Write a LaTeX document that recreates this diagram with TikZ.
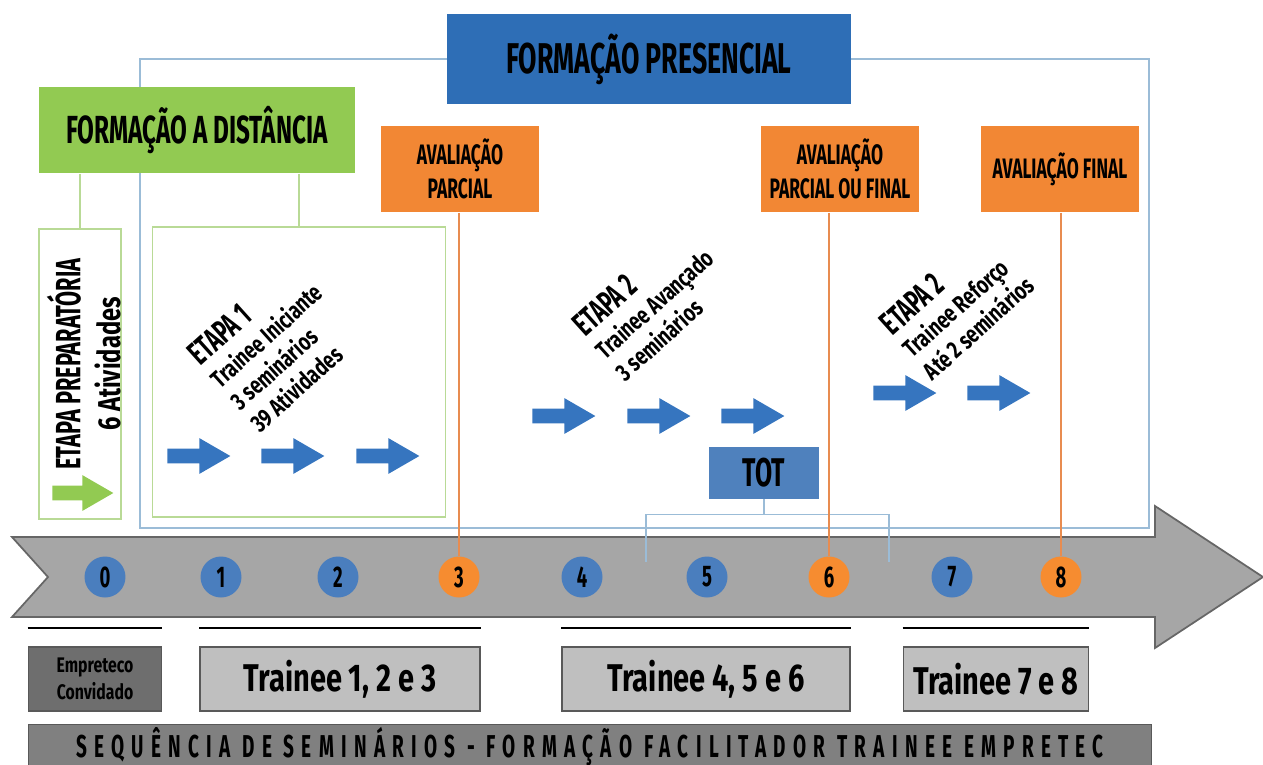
\documentclass[tikz,border=0pt]{standalone}
\usepackage{fontspec}
\setmainfont[FakeStretch=0.62]{Fira Sans}
\newfontfamily\widefont[FakeStretch=0.75]{Fira Sans}
\newfontfamily\spacedfont[FakeStretch=0.6,LetterSpace=23]{Fira Sans}
\usetikzlibrary{shapes.arrows}

\definecolor{presblue}{RGB}{46,110,182}
\definecolor{distgreen}{RGB}{146,202,82}
\definecolor{evalorange}{RGB}{242,135,52}
\definecolor{totblue}{RGB}{79,129,189}
\definecolor{dotblue}{RGB}{74,126,190}
\definecolor{dotorange}{RGB}{246,140,48}
\definecolor{arrowblue}{RGB}{54,117,191}
\definecolor{framecol}{RGB}{155,188,215}
\definecolor{greenline}{RGB}{185,218,150}
\definecolor{orangeline}{RGB}{232,140,80}

\begin{document}
\begin{tikzpicture}[x=0.02cm,y=-0.02cm,
    every node/.style={inner sep=0pt},
    evalbox/.style={fill=evalorange, minimum width=31.6mm, minimum height=17.4mm,
      align=center, font=\bfseries\fontsize{16}{19}\selectfont},
    greenbox/.style={draw=greenline, line width=0.8pt},
    blockarrow/.style={single arrow, fill=#1, minimum height=12.6mm, minimum width=7mm, anchor=west,
      inner xsep=0pt, inner ysep=1.4mm, single arrow head extend=2.1mm, single arrow tip angle=60},
    dot/.style={circle, minimum size=8.2mm, font=\bfseries\fontsize{17}{17}\selectfont},
    traineebox/.style={draw=black!65, line width=1pt, fill=black!25, minimum height=12.8mm,
      font=\widefont\bfseries\fontsize{22}{24}\selectfont},
    steptext/.style={rotate=42, align=left, font=\widefont\bfseries\fontsize{14}{17}\selectfont}]
  \useasboundingbox (0,0) rectangle (1263,764);

  %top boxes
  \node[fill=presblue, minimum width=80.8mm, minimum height=18mm,
    font=\bfseries\fontsize{24.5}{26}\selectfont] (pres) at (649,59) {FORMAÇÃO PRESENCIAL};
  \draw[framecol, line width=0.8pt] (pres.west) -| (140,528) -| (1149,59) -- (pres.east);
  \node[fill=distgreen, minimum width=63.2mm, minimum height=17.4mm,
    font=\bfseries\fontsize{22.3}{24}\selectfont] (dist) at (197,130) {FORMAÇÃO A DISTÂNCIA};
  \node[evalbox] (av1) at (460,169) {AVALIAÇÃO\\PARCIAL};
  \node[evalbox] (av2) at (840,169) {AVALIAÇÃO\\PARCIAL OU FINAL};
  \node[evalbox] (av3) at (1060,169) {AVALIAÇÃO FINAL};

  %stage boxes
  \node[greenbox, minimum width=16.4mm, minimum height=58mm] (prep) at (80,374) {};
  \node[greenbox, minimum width=58.6mm, minimum height=58mm] (et1box) at (299,372) {};
  \draw[greenline, line width=0.8pt] (dist.south -| prep.north) -- (prep.north);
  \draw[greenline, line width=0.8pt] (dist.south -| et1box.north) -- (et1box.north);

  \node[rotate=90, align=center, font=\bfseries\fontsize{20}{23}\selectfont] (preptext) at (84,364)
    {ETAPA PREPARATÓRIA\\{\widefont\fontsize{18}{20}\selectfont 6 Atividades}};
  \node[steptext] (et1) at (275,345)
    {{\normalfont\bfseries\fontsize{19}{21}\selectfont ETAPA 1}\\Trainee Iniciante\\3 seminários\\39 Atividades};
  \node[steptext] (et2) at (653,302)
    {{\normalfont\bfseries\fontsize{19}{21}\selectfont ETAPA 2}\\Trainee Avançado\\3 seminários};
  \node[steptext] (et3) at (957,304)
    {{\normalfont\bfseries\fontsize{19}{21}\selectfont ETAPA 2}\\Trainee Reforço\\Até 2 seminários};

  %arrows
  \node[blockarrow=distgreen, minimum height=12.2mm, minimum width=6.4mm] (g0) at (52,493) {};
  \foreach \x [count=\i] in {167,261,356} \node[blockarrow=arrowblue] (a\i) at (\x,456) {};
  \foreach \x [count=\i] in {532,627,721} \node[blockarrow=arrowblue] (b\i) at (\x,416) {};
  \foreach \x [count=\i] in {873,967} \node[blockarrow=arrowblue] (r\i) at (\x,393) {};

  \node[fill=totblue, minimum width=22mm, minimum height=10.4mm,
    font=\bfseries\fontsize{22.8}{24}\selectfont] (tot) at (764,473) {TOT};

  %time line
  \draw[draw=black!60, line width=1pt, fill=black!35]
    (12,537) -- (1155,537) -- (1155,506) -- (1263,577) -- (1155,648) -- (1155,617)
    -- (12,617) -- (48,577) -- cycle;

  \draw[framecol, line width=0.8pt] (tot.south) -- ++(0,15) coordinate (totj);
  \draw[framecol, line width=0.8pt] (646,562) |- (totj) -| (889,562);

  \foreach \n/\x/\c in {0/105/dotblue,1/221/dotblue,2/338/dotblue,3/459/dotorange,
      4/582/dotblue,5/707/dotblue,6/829/dotorange,7/952/dotblue,8/1061/dotorange}
    \node[dot, fill=\c] (c\n) at (\x,577) {\n};
  \foreach \a/\n in {av1/3,av2/6,av3/8}
    \draw[orangeline, line width=0.8pt] (\a.south -| c\n) -- (c\n.north);

  %trainee groups
  \node[traineebox, fill=black!57, minimum width=26.6mm, align=center,
    font=\widefont\bfseries\fontsize{12}{15}\selectfont] (emp) at (95,679) {Empreteco\\Convidado};
  \node[traineebox, minimum width=56mm] (tr1) at (340,679) {Trainee 1, 2 e 3};
  \node[traineebox, minimum width=57.6mm] (tr2) at (706,679) {Trainee 4, 5 e 6};
  \node[traineebox, minimum width=37mm] (tr3) at (996,679) {Trainee 7 e 8};
  \foreach \b in {emp,tr1,tr2,tr3}
    \draw[line width=1.2pt] ([yshift=3.6mm]\b.north west) -- ([yshift=3.6mm]\b.north east);

  \node[draw=black!65, line width=1pt, fill=black!50, minimum width=224.6mm, minimum height=9mm,
    font=\spacedfont\bfseries\fontsize{18}{20}\selectfont] (seq) at (590,747)
    {SEQUÊNCIA DE SEMINÁRIOS - FORMAÇÃO FACILITADOR TRAINEE EMPRETEC};
\end{tikzpicture}
\end{document}
